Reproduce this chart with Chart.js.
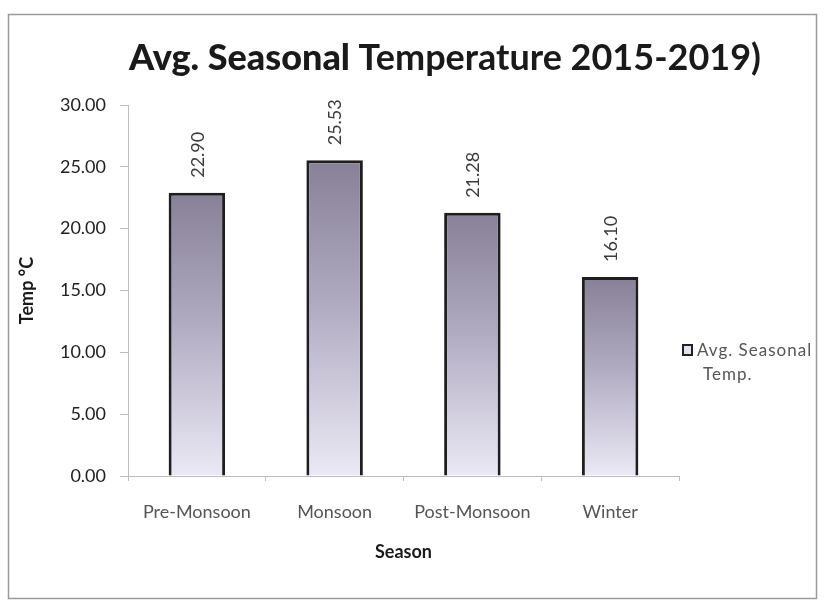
<!DOCTYPE html>
<html>
<head>
<meta charset="utf-8">
<script src="https://cdn.jsdelivr.net/npm/chart.js@4/dist/chart.umd.min.js"></script>
<style>
  html, body { margin: 0; padding: 0; background: #fff; }
  #wrap { width: 825px; height: 602px; position: relative; }
</style>
</head>
<body>
<div id="wrap"><canvas id="c" width="825" height="602"></canvas></div>
<script>
// Seasonal averages, 2015-2019
const seasons = ['Pre-Monsoon', 'Monsoon', 'Post-Monsoon', 'Winter'];
const avgTemp = [22.90, 25.53, 21.28, 16.10];
const seriesName = ['Avg. Seasonal', 'Temp.'];
const yMin = 0, yMax = 30, yStep = 5;

const FONT = 'Lato, "Open Sans", sans-serif';

// Vertical shading for each bar: dark at the top, pale at the base
function barFill(ctx) {
  const chart = ctx.chart;
  if (!chart.chartArea || !chart.scales.y) return '#b3adc3';
  const ys = chart.scales.y;
  const top = ys.getPixelForValue(ctx.raw);
  const base = ys.getPixelForValue(0);
  const g = chart.ctx.createLinearGradient(0, top, 0, base);
  g.addColorStop(0, '#878096');
  g.addColorStop(0.45, '#b0aac1');
  g.addColorStop(1, '#ebe9f5');
  return g;
}

// Frame, title, value labels and legend
const decorations = {
  id: 'decorations',
  beforeDraw(chart) {
    const c = chart.ctx;
    c.save();
    c.fillStyle = '#fff';
    c.fillRect(0, 0, chart.width, chart.height);
    c.strokeStyle = '#9a9a9a';
    c.lineWidth = 1.5;
    c.strokeRect(8.5, 14.5, 808, 584);
    c.restore();
  },
  afterDatasetsDraw(chart) {
    const c = chart.ctx;
    c.save();
    // title
    c.fillStyle = '#1a1a1a';
    c.textBaseline = 'alphabetic';
    const t1 = 'Avg. Seasonal ';
    const t2 = 'Temperature 2015-2019)';
    c.font = '900 36px ' + FONT;
    const w1 = c.measureText(t1).width;
    c.font = 'bold 36px ' + FONT;
    const w2 = c.measureText(t2).width;
    const x0 = 445 - (w1 + w2) / 2;
    c.font = '900 36px ' + FONT;
    c.fillText(t1, x0, 70);
    c.font = 'bold 36px ' + FONT;
    c.fillText(t2, x0 + w1, 70);

    // value labels, rotated, above each bar
    const meta = chart.getDatasetMeta(0);
    c.font = '18px ' + FONT;
    c.fillStyle = '#3a3a3a';
    c.textAlign = 'left';
    c.textBaseline = 'middle';
    meta.data.forEach((bar, i) => {
      c.save();
      c.translate(bar.x + 1, bar.y - 15);
      c.rotate(-Math.PI / 2);
      c.fillText(avgTemp[i].toFixed(2), 0, 0);
      c.restore();
    });

    // legend
    c.fillStyle = '#e4e2ee';
    c.fillRect(683, 345, 9, 10);
    c.strokeStyle = '#222';
    c.lineWidth = 2;
    c.strokeRect(683, 345, 9, 10);
    c.fillStyle = '#555';
    c.font = '17px ' + FONT;
    c.letterSpacing = '1px';
    c.textAlign = 'left';
    c.textBaseline = 'middle';
    c.fillText(seriesName[0], 697, 351);
    c.fillText(seriesName[1], 703, 375);
    c.restore();
  }
};

new Chart(document.getElementById('c'), {
  type: 'bar',
  data: {
    labels: seasons,
    datasets: [{
      label: seriesName.join(' '),
      data: avgTemp,
      backgroundColor: barFill,
      borderColor: '#1e1e1e',
      borderWidth: 3,
      borderSkipped: 'bottom',
      categoryPercentage: 1,
      barPercentage: 0.41
    }]
  },
  options: {
    responsive: false,
    animation: false,
    layout: { padding: { top: 105, right: 146, bottom: 37, left: 0 } },
    plugins: {
      legend: { display: false },
      title: { display: false },
      tooltip: { enabled: false }
    },
    scales: {
      x: {
        afterFit(scale) { scale.height = 89; },
        grid: { drawOnChartArea: false, drawTicks: true, tickLength: 5, color: '#bdbdbd' },
        border: { display: true, color: '#bdbdbd', width: 1 },
        ticks: { color: '#555', font: { family: FONT, size: 18 }, padding: 20 },
        title: {
          display: true, text: 'Season', color: '#1a1a1a',
          font: { family: FONT, size: 18, weight: 'bold' },
          padding: { top: 0, bottom: 2 }
        }
      },
      y: {
        min: yMin, max: yMax,
        afterFit(scale) { scale.width = 128; },
        grid: { drawOnChartArea: false, drawTicks: true, tickLength: 8, color: '#bdbdbd' },
        border: { display: true, color: '#bdbdbd', width: 1 },
        ticks: {
          stepSize: yStep, color: '#222', padding: 14,
          font: { family: FONT, size: 18 },
          callback: v => Number(v).toFixed(2)
        },
        title: {
          display: true, text: 'Temp °C', color: '#1a1a1a',
          font: { family: FONT, size: 18, weight: 'bold' },
          padding: { top: 16, bottom: 0 }
        }
      }
    }
  },
  plugins: [decorations]
});
</script>
</body>
</html>
